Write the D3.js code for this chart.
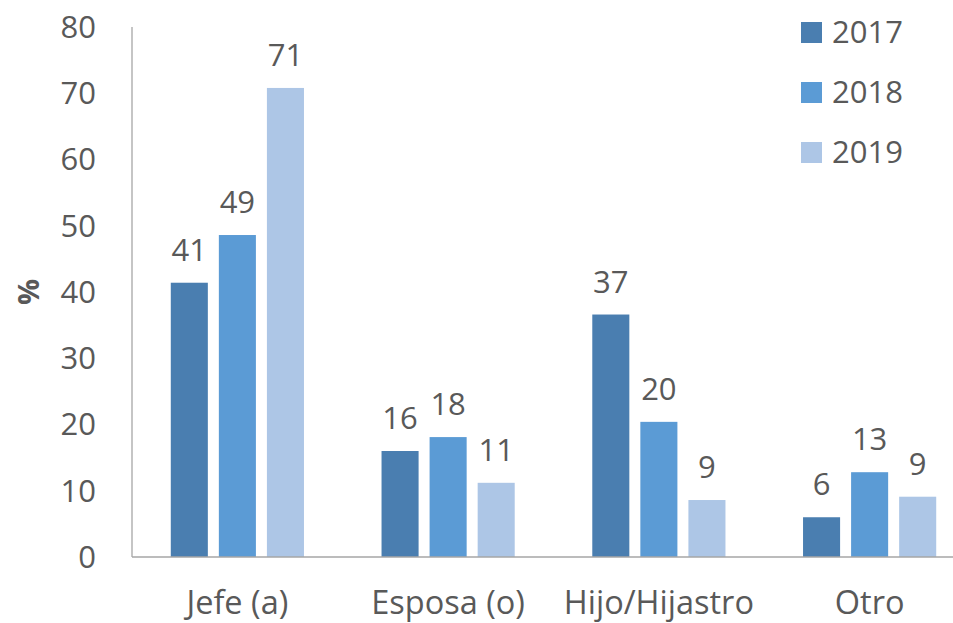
<!DOCTYPE html>
<html>
<head>
<meta charset="utf-8">
<script src="https://cdn.jsdelivr.net/npm/d3@7"></script>
<style>
  body { margin: 0; background: #fff; }
  text { font-family: "Open Sans", sans-serif; fill: #595959; }
</style>
</head>
<body>
<svg class="chart" width="953" height="623"></svg>
<script>
const categories = ["Jefe (a)", "Esposa (o)", "Hijo/Hijastro", "Otro"];
const years = ["2017", "2018", "2019"];
const values2017 = [41.4, 16.0, 36.6, 6.0];
const values2018 = [48.6, 18.1, 20.4, 12.8];
const values2019 = [70.8, 11.2, 8.6, 9.1];
const yTicks = [0, 10, 20, 30, 40, 50, 60, 70, 80];
const colors = ["#4a7eb0", "#5b9bd5", "#adc6e6"];

const series = [values2017, values2018, values2019];
const data = categories.flatMap((c, i) =>
  years.map((y, j) => ({ category: c, year: y, value: series[j][i] }))
);

const svg = d3.select(".chart");

const x = d3.scaleBand().domain(categories).range([132, 975]);
const xInner = d3
  .scaleBand()
  .domain(years)
  .range([0, x.bandwidth()])
  .paddingInner(0.229)
  .paddingOuter(0.807);
const y = d3.scaleLinear().domain([0, 80]).range([557, 27]);
const color = d3.scaleOrdinal().domain(years).range(colors);

// bars
svg
  .append("g")
  .selectAll("rect")
  .data(data)
  .join("rect")
  .attr("x", d => x(d.category) + xInner(d.year))
  .attr("y", d => y(d.value))
  .attr("width", xInner.bandwidth())
  .attr("height", d => y(0) - y(d.value))
  .attr("fill", d => color(d.year));

// value labels
svg
  .append("g")
  .selectAll("text")
  .data(data)
  .join("text")
  .attr("x", d => x(d.category) + xInner(d.year) + xInner.bandwidth() / 2)
  .attr("y", d => y(d.value) - 22)
  .attr("text-anchor", "middle")
  .style("font-size", "31px")
  .text(d => d3.format(".0f")(d.value));

// axes lines
svg
  .append("line")
  .attr("x1", 132)
  .attr("x2", 132)
  .attr("y1", y(80))
  .attr("y2", y(0))
  .attr("stroke", "#a6a6a6")
  .attr("stroke-width", 1.3);
svg
  .append("line")
  .attr("x1", 132)
  .attr("x2", 975)
  .attr("y1", y(0))
  .attr("y2", y(0))
  .attr("stroke", "#a6a6a6")
  .attr("stroke-width", 1.3);

// y tick labels
svg
  .append("g")
  .selectAll("text")
  .data(yTicks)
  .join("text")
  .attr("x", 96)
  .attr("y", d => y(d))
  .attr("dy", "0.35em")
  .attr("text-anchor", "end")
  .style("font-size", "31px")
  .text(d => d);

// category labels
svg
  .append("g")
  .selectAll("text")
  .data(categories)
  .join("text")
  .attr("x", d => x(d) + x.bandwidth() / 2)
  .attr("y", 614)
  .attr("text-anchor", "middle")
  .style("font-size", "32.5px")
  .text(d => d);

// y axis title
svg
  .append("text")
  .attr("transform", `translate(39, ${(y(0) + y(80)) / 2}) rotate(-90)`)
  .attr("text-anchor", "middle")
  .style("font-size", "29px")
  .style("font-weight", "bold")
  .text("%");

// legend
const legend = svg
  .append("g")
  .selectAll("g")
  .data(years)
  .join("g")
  .attr("transform", (d, i) => `translate(801, ${22 + i * 60})`);
legend
  .append("rect")
  .attr("width", 21)
  .attr("height", 21)
  .attr("fill", d => color(d));
legend
  .append("text")
  .attr("x", 31)
  .attr("y", 10.5)
  .attr("dy", "0.35em")
  .style("font-size", "31px")
  .text(d => d);
</script>
</body>
</html>
